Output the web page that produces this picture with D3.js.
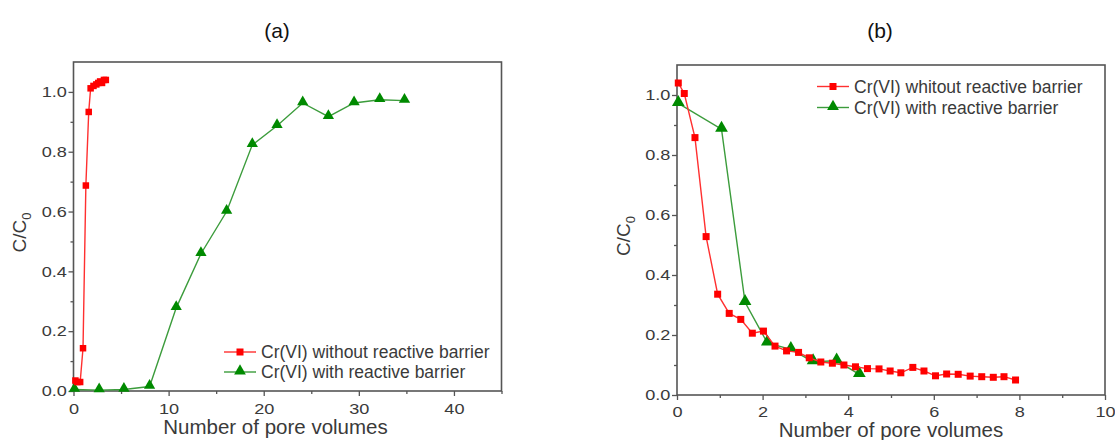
<!DOCTYPE html>
<html><head><meta charset="utf-8">
<script src="https://cdn.jsdelivr.net/npm/d3@7"></script>
<style>
html,body{margin:0;padding:0;background:#fff;}
svg{display:block;font-family:Arial,"Liberation Sans",sans-serif;}
</style></head>
<body>
<svg id="chart" width="1115" height="440"></svg>
<script>
// ---------- DATA ----------
// Panel (a): x = number of pore volumes, y = C/C0
const aWithoutX = [0.2, 0.4, 0.7, 1.0, 1.3, 1.6, 1.8, 2.1, 2.4, 2.6, 2.8, 3.0, 3.2, 3.4];
const aWithoutY = [0.035, 0.03, 0.03, 0.143, 0.687, 0.933, 1.012, 1.02, 1.025, 1.03, 1.035, 1.03, 1.04, 1.04];
const aWithX = [0.1, 2.7, 5.3, 8.0, 10.8, 13.4, 16.1, 18.8, 21.4, 24.1, 26.8, 29.5, 32.2, 34.8];
const aWithY = [0.005, 0.003, 0.005, 0.015, 0.278, 0.459, 0.600, 0.823, 0.887, 0.963, 0.917, 0.963, 0.974, 0.971];
// Panel (b)
const bWithoutX = [0.03, 0.17, 0.42, 0.68, 0.95, 1.22, 1.49, 1.76, 2.02, 2.29, 2.56, 2.84, 3.09, 3.36, 3.63, 3.90, 4.17, 4.45, 4.72, 4.98, 5.23, 5.51, 5.77, 6.04, 6.30, 6.57, 6.85, 7.12, 7.39, 7.64, 7.91];
const bWithoutY = [1.04, 1.005, 0.858, 0.528, 0.336, 0.272, 0.252, 0.206, 0.213, 0.163, 0.147, 0.142, 0.124, 0.110, 0.106, 0.100, 0.094, 0.088, 0.087, 0.080, 0.074, 0.092, 0.080, 0.064, 0.070, 0.069, 0.063, 0.061, 0.059, 0.061, 0.050];
const bWithX = [0.03, 1.04, 1.59, 2.11, 2.66, 3.18, 3.73, 4.26];
const bWithY = [0.972, 0.886, 0.309, 0.174, 0.152, 0.111, 0.114, 0.069];

const aXTicks = [0, 10, 20, 30, 40];
const bXTicks = [0, 2, 4, 6, 8, 10];
const yTicks = [0.0, 0.2, 0.4, 0.6, 0.8, 1.0];

const aLegend = ["Cr(VI) without reactive barrier", "Cr(VI) with reactive barrier"];
const bLegend = ["Cr(VI) whitout reactive barrier", "Cr(VI) with reactive barrier"];
const xTitle = "Number of pore volumes";

// ---------- STYLE ----------
const RED_LINE = "#ff3030", RED = "#ff0000";
const GREEN_LINE = "#3c9c3c", GREEN = "#008a00";
const AXIS = "#555", TXT = "#3a3a3a";
const SX = 1.25; // horizontal stretch of tick labels

const svg = d3.select("#chart");

function styleAxis(sel) {
  sel.select(".domain").remove();
  sel.selectAll(".tick line").attr("stroke", AXIS).attr("stroke-width", 1.3);
  sel.selectAll(".tick text").attr("font-size", 14.5).attr("fill", TXT)
    .attr("font-family", "Arial, 'Liberation Sans', sans-serif")
    .each(function () {
      const t = d3.select(this);
      const xv = +t.attr("x") || 0;
      t.attr("x", xv / SX).attr("transform", `scale(${SX},1)`);
    });
}

function panel(cfg) {
  const x = d3.scaleLinear().domain(cfg.xDomain).range([cfg.left, cfg.right]);
  const y = d3.scaleLinear().domain([0, 1.1]).range([cfg.bottom, cfg.top]);
  const g = svg.append("g");

  g.append("text").attr("x", cfg.titleX).attr("y", 38)
    .attr("text-anchor", "middle").attr("font-size", 21).attr("fill", "#111").text(cfg.title);

  const xMinor = d3.axisBottom(x).tickValues(cfg.xMinor).tickSize(3).tickFormat("");
  const yMinor = d3.axisLeft(y).tickValues([0.1, 0.3, 0.5, 0.7, 0.9]).tickSize(3).tickFormat("");
  g.append("g").attr("transform", `translate(0,${cfg.bottom})`).call(xMinor).call(styleAxis);
  g.append("g").attr("transform", `translate(${cfg.left},0)`).call(yMinor).call(styleAxis);

  const xAx = d3.axisBottom(x).tickValues(cfg.xTicks).tickSize(5).tickPadding(cfg.xPad).tickFormat(d3.format("d"));
  const yAx = d3.axisLeft(y).tickValues(yTicks).tickSize(5).tickPadding(1.6).tickFormat(d3.format(".1f"));
  g.append("g").attr("transform", `translate(0,${cfg.bottom})`).call(xAx).call(styleAxis);
  g.append("g").attr("transform", `translate(${cfg.left},0)`).call(yAx).call(styleAxis);

  g.append("rect").attr("x", cfg.left).attr("y", cfg.top)
    .attr("width", cfg.right - cfg.left).attr("height", cfg.bottom - cfg.top)
    .attr("fill", "none").attr("stroke", AXIS).attr("stroke-width", 1.6);

  g.append("text").attr("x", (cfg.left + cfg.right) / 2 + cfg.xTitleDx).attr("y", cfg.xTitleY)
    .attr("text-anchor", "middle").attr("font-size", 20.5).attr("fill", TXT).text(xTitle);
  const yt = g.append("text")
    .attr("transform", `translate(${cfg.yTitleX},${(cfg.top + cfg.bottom) / 2 + 6}) rotate(-90)`)
    .attr("text-anchor", "middle").attr("font-size", 19).attr("fill", TXT);
  yt.append("tspan").text("C/C");
  yt.append("tspan").attr("font-size", 13).attr("dy", 5).text("0");

  const line = d3.line().x(d => x(d[0])).y(d => y(d[1]));
  const redPts = d3.zip(cfg.redX, cfg.redY);
  const greenPts = d3.zip(cfg.greenX, cfg.greenY);
  const tri = d3.symbol().type(d3.symbolTriangle).size(cfg.triSize);

  g.append("path").datum(greenPts).attr("d", line).attr("fill", "none")
    .attr("stroke", GREEN_LINE).attr("stroke-width", 1.4);
  g.selectAll(null).data(greenPts).enter().append("path")
    .attr("d", tri).attr("transform", d => `translate(${x(d[0])},${y(d[1]) - 1})`).attr("fill", GREEN);

  g.append("path").datum(redPts).attr("d", line).attr("fill", "none")
    .attr("stroke", RED_LINE).attr("stroke-width", 1.4);
  const s = cfg.sqSize;
  g.selectAll(null).data(redPts).enter().append("rect")
    .attr("x", d => x(d[0]) - s / 2).attr("y", d => y(d[1]) - s / 2)
    .attr("width", s).attr("height", s).attr("fill", RED);

  const lg = g.append("g");
  cfg.legend.forEach((t, i) => {
    const ly = cfg.legY + i * cfg.legGap;
    const isRed = i === 0;
    lg.append("line").attr("x1", cfg.legX).attr("x2", cfg.legX + 32).attr("y1", ly).attr("y2", ly)
      .attr("stroke", isRed ? RED_LINE : GREEN_LINE).attr("stroke-width", 1.4);
    if (isRed) {
      lg.append("rect").attr("x", cfg.legX + 16 - 3.5).attr("y", ly - 3.5).attr("width", 7).attr("height", 7).attr("fill", RED);
    } else {
      lg.append("path").attr("d", d3.symbol().type(d3.symbolTriangle).size(60)())
        .attr("transform", `translate(${cfg.legX + 16},${ly - 1})`).attr("fill", GREEN);
    }
    lg.append("text").attr("x", cfg.legX + 37).attr("y", ly + 6)
      .attr("font-size", 17.5).attr("fill", TXT).text(t);
  });
}

panel({
  title: "(a)", titleX: 277,
  left: 73.5, right: 501.5, top: 62, bottom: 391,
  xDomain: [0, 45], xTicks: aXTicks, xMinor: [5, 15, 25, 35, 45], xPad: 8,
  redX: aWithoutX, redY: aWithoutY, greenX: aWithX, greenY: aWithY,
  sqSize: 6.5, triSize: 55,
  legend: aLegend, legX: 224, legY: 352, legGap: 20,
  xTitleY: 434, xTitleDx: -12, yTitleX: 26
});

panel({
  title: "(b)", titleX: 880,
  left: 677, right: 1105, top: 65, bottom: 395,
  xDomain: [0, 10], xTicks: bXTicks, xMinor: [1, 3, 5, 7, 9], xPad: 7,
  redX: bWithoutX, redY: bWithoutY, greenX: bWithX, greenY: bWithY,
  sqSize: 7, triSize: 70,
  legend: bLegend, legX: 817, legY: 86.5, legGap: 21,
  xTitleY: 437, xTitleDx: 0, yTitleX: 630
});
</script>
</body></html>
